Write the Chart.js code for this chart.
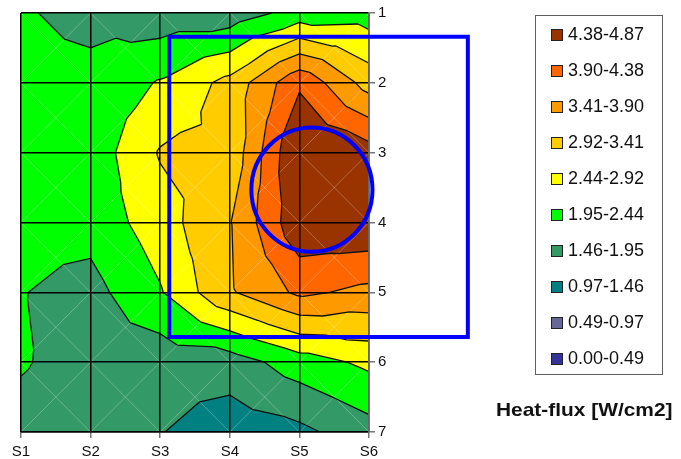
<!DOCTYPE html>
<html lang="en">
<head>
<meta charset="UTF-8" />
<title>Heat-flux map</title>
<script src="https://cdn.jsdelivr.net/npm/chart.js"></script>
<style>
  body { margin: 0; background: #fff; font-family: Arial, "Liberation Sans", sans-serif; }
  .wrap { position: relative; width: 681px; height: 459px; overflow: hidden; }
  canvas { position: absolute; left: 0; top: 0; }
  .legend { position: absolute; left: 535px; top: 15px; width: 126px; height: 358px; border: 1px solid #5f5f5f; }
  .legend .item { position: absolute; left: 15px; height: 20px; display: flex; align-items: center; font-size: 18px; color: #111; white-space: nowrap; }
  .legend .sw { width: 10px; height: 10px; border: 1px solid #222; margin-right: 5px; }
  .title { position: absolute; left: 496px; top: 400px; font-weight: bold; font-size: 19px; line-height: 19px; color: #111; transform: scaleX(1.1); transform-origin: left top; white-space: nowrap; }
</style>
</head>
<body>
<div class="wrap">
  <canvas id="heatChart" width="681" height="459"></canvas>
  <div class="legend" id="legend"></div>
  <div class="title">Heat-flux [W/cm2]</div>
</div>

<script>
// sensor columns and rows
const sensorLabels = ['S1', 'S2', 'S3', 'S4', 'S5', 'S6'];
const rowLabels = ['1', '2', '3', '4', '5', '6', '7'];

// heat flux readings per row (W/cm2), S1..S6
const row1 = [2.00, 1.80, 1.65, 1.65, 2.15, 2.20];
const row2 = [2.10, 2.10, 2.48, 3.07, 4.30, 3.20];
const row3 = [2.10, 2.15, 2.96, 3.05, 4.90, 4.60];
const row4 = [2.10, 2.13, 2.70, 3.38, 4.75, 4.80];
const row5 = [1.97, 1.78, 2.40, 3.35, 4.00, 3.77];
const row6 = [2.00, 1.70, 1.64, 1.70, 2.20, 2.55];
const row7 = [1.75, 1.60, 1.48, 1.19, 1.34, 1.75];
const heatRows = [row1, row2, row3, row4, row5, row6, row7];

// contour bands
const bandLimits = [0.00, 0.49, 0.97, 1.46, 1.95, 2.44, 2.92, 3.41, 3.90, 4.38, 4.87];
const bandColors = ['#333399', '#666699', '#008080', '#339966', '#00FF00',
                    '#FFFF00', '#FFCC00', '#FF9900', '#FF6600', '#993300'];

// marked zone (axis units): rectangle corners and circle centre / radii
const zoneRect = [3.13, 1.34, 7.42, 5.64];
const zoneCircle = [5.18, 3.53, 0.87, 0.89];

// legend, highest band first
const legendEl = document.getElementById('legend');
for (let k = bandColors.length - 1, n = 0; k >= 0; k--, n++) {
  const item = document.createElement('div');
  item.className = 'item';
  item.style.top = (8.7 + 36 * n) + 'px';
  item.innerHTML = '<span class="sw" style="background:' + bandColors[k] + '"></span>' +
    bandLimits[k].toFixed(2) + '-' + bandLimits[k + 1].toFixed(2);
  legendEl.appendChild(item);
}

// each cell split into 4 triangles around its centre
function buildTriangles() {
  const tris = [];
  for (let j = 0; j < heatRows.length - 1; j++) {
    for (let i = 0; i < sensorLabels.length - 1; i++) {
      const a = {x: i + 1, y: j + 1, v: heatRows[j][i]};
      const b = {x: i + 2, y: j + 1, v: heatRows[j][i + 1]};
      const c = {x: i + 2, y: j + 2, v: heatRows[j + 1][i + 1]};
      const d = {x: i + 1, y: j + 2, v: heatRows[j + 1][i]};
      const e = {x: i + 1.5, y: j + 1.5, v: (a.v + b.v + c.v + d.v) / 4};
      tris.push([a, b, e], [b, c, e], [c, d, e], [d, a, e]);
    }
  }
  return tris;
}

function lerp(p, q, t) {
  const r = (t - p.v) / (q.v - p.v);
  return {x: p.x + (q.x - p.x) * r, y: p.y + (q.y - p.y) * r, v: t};
}

// keep the part of a polygon where v >= t
function clipAbove(poly, t) {
  const out = [];
  for (let n = 0; n < poly.length; n++) {
    const p = poly[n], q = poly[(n + 1) % poly.length];
    const pin = p.v >= t, qin = q.v >= t;
    if (pin) out.push(p);
    if (pin !== qin) out.push(lerp(p, q, t));
  }
  return out;
}

const contourPlugin = {
  id: 'contour',
  beforeDraw(chart) {
    const {ctx, chartArea: area, scales: {x, y}} = chart;
    const X = p => x.getPixelForValue(p.x);
    const Y = p => y.getPixelForValue(p.y);
    const tris = buildTriangles();

    ctx.save();
    ctx.beginPath();
    ctx.rect(area.left, area.top, area.right - area.left, area.bottom - area.top);
    ctx.clip();

    // filled bands, painted from lowest up
    for (let k = 0; k < bandColors.length; k++) {
      ctx.beginPath();
      tris.forEach(t => {
        const poly = k === 0 ? t : clipAbove(t, bandLimits[k]);
        if (poly.length < 3) return;
        poly.forEach((p, n) => n ? ctx.lineTo(X(p), Y(p)) : ctx.moveTo(X(p), Y(p)));
        ctx.closePath();
      });
      ctx.fillStyle = bandColors[k];
      ctx.fill();
    }

    // faint cell diagonals
    ctx.beginPath();
    for (let j = 1; j < rowLabels.length; j++) {
      for (let i = 1; i < sensorLabels.length; i++) {
        ctx.moveTo(x.getPixelForValue(i), y.getPixelForValue(j));
        ctx.lineTo(x.getPixelForValue(i + 1), y.getPixelForValue(j + 1));
        ctx.moveTo(x.getPixelForValue(i + 1), y.getPixelForValue(j));
        ctx.lineTo(x.getPixelForValue(i), y.getPixelForValue(j + 1));
      }
    }
    ctx.strokeStyle = 'rgba(255,255,255,0.35)';
    ctx.lineWidth = 0.8;
    ctx.stroke();

    // contour lines
    ctx.beginPath();
    bandLimits.slice(1, -1).forEach(t => {
      tris.forEach(tri => {
        const pts = [];
        for (let n = 0; n < 3; n++) {
          const p = tri[n], q = tri[(n + 1) % 3];
          if ((p.v - t) * (q.v - t) < 0) pts.push(lerp(p, q, t));
        }
        if (pts.length === 2) {
          ctx.moveTo(X(pts[0]), Y(pts[0]));
          ctx.lineTo(X(pts[1]), Y(pts[1]));
        }
      });
    });
    ctx.strokeStyle = '#111';
    ctx.lineWidth = 1.3;
    ctx.lineJoin = 'round';
    ctx.stroke();
    ctx.restore();
  },
  afterDraw(chart) {
    const {ctx, scales: {x, y}} = chart;
    ctx.save();
    ctx.strokeStyle = '#0000FF';
    ctx.lineWidth = 4;
    const l = x.getPixelForValue(zoneRect[0]), t = y.getPixelForValue(zoneRect[1]);
    const r = x.getPixelForValue(zoneRect[2]), b = y.getPixelForValue(zoneRect[3]);
    ctx.strokeRect(l, t, r - l, b - t);
    const cx = x.getPixelForValue(zoneCircle[0]), cy = y.getPixelForValue(zoneCircle[1]);
    const rx = x.getPixelForValue(zoneCircle[0] + zoneCircle[2]) - cx;
    const ry = y.getPixelForValue(zoneCircle[1] + zoneCircle[3]) - cy;
    ctx.beginPath();
    ctx.ellipse(cx, cy, Math.abs(rx), Math.abs(ry), 0, 0, Math.PI * 2);
    ctx.stroke();
    ctx.restore();
  }
};

const points = [];
heatRows.forEach((row, j) => row.forEach((v, i) => points.push({x: i + 1, y: j + 1, v: v})));

Chart.defaults.font.family = 'Arial, "Liberation Sans", sans-serif';
Chart.defaults.font.size = 15;
Chart.defaults.color = '#111';

new Chart(document.getElementById('heatChart'), {
  type: 'scatter',
  data: {
    datasets: [{ label: 'Heat-flux', data: points, pointRadius: 0, pointHoverRadius: 0 }]
  },
  options: {
    responsive: false,
    animation: false,
    events: [],
    layout: { padding: { left: 21, top: 13, right: 282, bottom: 0 } },
    plugins: { legend: { display: false }, tooltip: { enabled: false } },
    scales: {
      x: {
        type: 'linear', min: 1, max: 6,
        afterFit: s => { s.height = 27; },
        ticks: { stepSize: 1, autoSkip: false, padding: 5, maxRotation: 0,
                 callback: v => sensorLabels[v - 1] },
        grid: { color: '#000', lineWidth: 1.5, tickLength: 6, tickColor: '#777' },
        border: { color: '#000', width: 1.5 }
      },
      y: {
        type: 'linear', min: 1, max: 7, reverse: true, position: 'right',
        afterFit: s => { s.width = 30; },
        ticks: { stepSize: 1, autoSkip: false, padding: 3,
                 callback: v => rowLabels[v - 1] },
        grid: { color: '#000', lineWidth: 1.5, tickLength: 6, tickColor: '#777' },
        border: { color: '#666', width: 1.5 }
      }
    }
  },
  plugins: [contourPlugin]
});
</script>
</body>
</html>
